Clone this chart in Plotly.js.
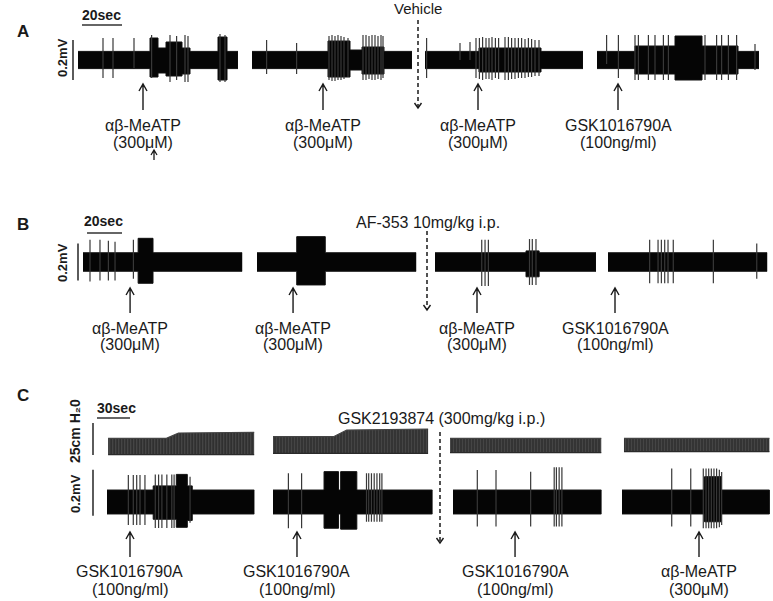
<!DOCTYPE html>
<html><head><meta charset="utf-8">
<script src="https://cdn.plot.ly/plotly-3.0.1.min.js"></script>
<style>html,body{margin:0;padding:0;background:#fff}</style>
</head><body><div id="chart" style="width:773px;height:601px"></div>
<script>
// ================= DATA =================
// Electrical traces: envelope of baseline activity (time s, +mV, -mV) and spikes (time s, up mV, down mV)
// ---- Panel A ----
const a1T  = [0, 36, 36, 40, 40, 44, 44, 52, 52, 56, 56, 70, 70, 74.5, 74.5, 80];
const a1Up = [.043,.043,.11,.11,.06,.06,.09,.09,.06,.06,.043,.043,.115,.115,.043,.043];
const a1Dn = [.043,.043,.085,.085,.065,.065,.08,.08,.07,.07,.043,.043,.10,.10,.043,.043];
const a1SpT  = [12.5, 17.5, 28, 36.8, 46, 49.3, 53.5, 55, 71, 73.5];
const a1SpUp = [.11,.11,.11,.125,.125,.12,.125,.12,.13,.125];
const a1SpDn = [.09,.09,.04,.09,.11,.10,.11,.11,.11,.11];

const a2T  = [0, 38, 38, 49, 49, 55, 55, 66, 66, 80];
const a2Up = [.043,.043,.095,.095,.05,.05,.065,.065,.043,.043];
const a2Dn = [.043,.043,.085,.085,.05,.05,.07,.07,.043,.043];
const a2SpT  = [7.3, 22.3, 38.5, 40, 41.5, 43, 44.5, 46, 48, 55.5, 57, 58.5, 60, 61.5, 63, 64.5, 65.5];
const a2SpUp = [.10,.085,.12,.125,.12,.125,.12,.115,.11,.125,.125,.12,.125,.125,.12,.125,.12];
const a2SpDn = [.07,.07,.10,.105,.105,.10,.10,.095,.085,.10,.10,.095,.10,.10,.095,.10,.09];

const a3T  = [0, 27, 27, 58, 58, 79];
const a3Up = [.043,.043,.06,.06,.043,.043];
const a3Dn = [.043,.043,.06,.06,.043,.043];
const a3SpT  = [0.8, 17.5, 22.5, 25.5, 27.2, 28.8, 30.5, 32, 33.5, 35.2, 36.8, 40, 41.7, 43.3, 45, 46.7, 48.3, 50, 51.7, 53.3, 55, 57];
const a3SpUp = [.11,.085,.09,.11,.11,.115,.11,.11,.115,.11,.11,.115,.115,.11,.11,.11,.11,.105,.11,.105,.10,.10];
const a3SpDn = [.09,0,0,.09,.095,.10,.095,.095,.10,.09,.095,.10,.10,.095,.095,.09,.09,.09,.085,.085,.08,.08];

const a4T  = [0, 19, 19, 39, 39, 52.5, 52.5, 70.5, 70.5, 81];
const a4Up = [.043,.043,.07,.07,.12,.12,.07,.07,.043,.043];
const a4Dn = [.043,.043,.07,.07,.10,.10,.07,.07,.043,.043];
const a4SpT  = [4.8, 10.7, 19, 20.7, 25.7, 29, 33.2, 35.7, 54, 59.8, 62.3, 65.7, 69.8, 79];
const a4SpUp = [.125,.125,.125,.125,.125,.125,.125,.125,.125,.125,.125,.125,.125,.08];
const a4SpDn = [.02,.09,.10,.10,.10,.10,.10,.10,.10,.10,.10,.10,.10,.05];

// ---- Panel B ----
const b1T  = [0, 31.5, 31.5, 40, 40, 91];
const b1Up = [.05,.05,.128,.128,.05,.05];
const b1Dn = [.05,.05,.115,.115,.05,.05];
const b1SpT  = [4, 9.7, 14.5, 18.3, 28.8];
const b1SpUp = [.12,.12,.115,.11,.12];
const b1SpDn = [.105,.10,.10,.10,.09];

const b2T  = [0, 22.7, 22.7, 39, 39, 91];
const b2Up = [.05,.05,.137,.137,.05,.05];
const b2Dn = [.05,.05,.124,.124,.05,.05];
const b2SpT  = [];
const b2SpUp = [];
const b2SpDn = [];

const b3T  = [0, 52, 52, 59.5, 59.5, 92];
const b3Up = [.05,.05,.06,.06,.05,.05];
const b3Dn = [.05,.05,.08,.08,.05,.05];
const b3SpT  = [26.7, 28.6, 30.5, 54, 55.6, 57.7];
const b3SpUp = [.12,.12,.12,.124,.124,.124];
const b3SpDn = [.13,.13,.13,.124,.124,.124];

const b4T  = [0, 91];
const b4Up = [.05,.05];
const b4Dn = [.05,.05];
const b4SpT  = [23.8, 28.6, 30.5, 32.4, 34.3, 37.3, 60.2, 85];
const b4SpUp = [.12,.12,.12,.12,.12,.12,.12,.10];
const b4SpDn = [.115,.115,.115,.115,.115,.115,.115,.09];

// ---- Panel C (electrical) ----
const c1T  = [0, 42, 42, 63, 63, 73, 73, 77.5, 77.5, 134];
const c1Up = [.052,.052,.07,.07,.12,.12,.07,.07,.052,.052];
const c1Dn = [.052,.052,.075,.075,.11,.11,.08,.08,.052,.052];
const c1SpT  = [19.4, 23.9, 27, 30, 34.5, 43.9, 46.9, 49.9, 54.4, 58.9, 61, 75.5];
const c1SpUp = [.117,.117,.117,.117,.117,.12,.12,.12,.12,.12,.12,.11];
const c1SpDn = [.10,.10,.10,.10,.10,.113,.113,.113,.113,.113,.113,.09];

const c2T  = [0, 46.4, 46.4, 59.6, 59.6, 61.5, 61.5, 76.2, 76.2, 145];
const c2Up = [.052,.052,.132,.132,.052,.052,.132,.132,.052,.052];
const c2Dn = [.052,.052,.114,.114,.052,.052,.118,.118,.052,.052];
const c2SpT  = [14, 26, 85, 87, 89.5, 92, 94.5, 97, 99];
const c2SpUp = [.125,.125,.125,.125,.125,.125,.125,.125,.125];
const c2SpDn = [.114,.114,.086,.086,.086,.086,.086,.086,.086];

const c3T  = [0, 135];
const c3Up = [.052,.052];
const c3Dn = [.052,.052];
const c3SpT  = [22.1, 39.1, 70.6, 92, 94, 96.5, 99];
const c3SpUp = [.139,.139,.132,.151,.151,.151,.151];
const c3SpDn = [.107,.107,.107,.107,.107,.107,.107];

const c4T  = [0, 75, 75, 90, 90, 134];
const c4Up = [.052,.052,.11,.11,.052,.052];
const c4Dn = [.052,.052,.086,.086,.052,.052];
const c4SpT  = [45.2, 62.5, 73.9, 76.4, 78.8, 81.2, 83.6, 86, 88.5, 90.6];
const c4SpUp = [.146,.146,.146,.146,.146,.146,.146,.146,.14,.13];
const c4SpDn = [.107,.107,.114,.114,.114,.114,.114,.114,.11,.10];

// ---- Panel C (bladder pressure, cm H2O) ----
const p1T = [1, 54, 65, 134];   const p1Peak = [13.0, 13.0, 17.2, 17.7]; const p1Trough = [0.3, 0.3, 0.3, 0.3];
const p2T = [0, 55, 67, 141];   const p2Peak = [14.3, 14.3, 19.5, 20.3]; const p2Trough = [1.3, 1.3, 1.3, 1.3];
const p3T = [-2.7, 135];        const p3Peak = [13.0, 13.0];             const p3Trough = [1.8, 1.8];
const p4T = [1.8, 134];         const p4Peak = [13.0, 13.0];             const p4Trough = [2.6, 2.6];

// ---- Events (drug application times within each trace, s) ----
const aEvT = [32.5, 35.5, 26.5, 10.5];
const aEvName = ['αβ-MeATP', 'αβ-MeATP', 'αβ-MeATP', 'GSK1016790A'];
const aEvDose = ['(300μM)', '(300μM)', '(300μM)', '(100ng/ml)'];
const bEvT = [26.9, 20.6, 24, 4];
const bEvName = ['αβ-MeATP', 'αβ-MeATP', 'αβ-MeATP', 'GSK1016790A'];
const bEvDose = ['(300μM)', '(300μM)', '(300μM)', '(100ng/ml)'];
const cEvT = [20.9, 21.8, 56.4, 70];
const cEvName = ['GSK1016790A', 'GSK1016790A', 'GSK1016790A', 'αβ-MeATP'];
const cEvDose = ['(100ng/ml)', '(100ng/ml)', '(100ng/ml)', '(300μM)'];
const treatments = ['Vehicle', 'AF-353 10mg/kg i.p.', 'GSK2193874 (300mg/kg i.p.)'];

// ================= LAYOUT CONFIG =================
const W = 773, H = 601;
const FONT = '"Liberation Sans", Arial, Helvetica, sans-serif';
const INK = '#1a1a1a';
const py = p => 1 - p / H;
const pxf = p => p / W;

const rows = {
  A:  {yId: 'y',  zeroPx: 60,  k: 200,  range: [-0.2, 0.2], pps: 2},
  B:  {yId: 'y2', zeroPx: 262, k: 185,  range: [-0.2, 0.2], pps: 1.75},
  CP: {yId: 'y3', zeroPx: 455, k: 1.28, range: [-1, 30]},
  CE: {yId: 'y4', zeroPx: 502, k: 230,  range: [-0.2, 0.2], pps: 1.1}
};
const segs = [
  {xId:'x',   row:'A', start:78,  range:[0,80],   t:a1T, up:a1Up, dn:a1Dn, st:a1SpT, su:a1SpUp, sd:a1SpDn},
  {xId:'x2',  row:'A', start:252, range:[0,80],   t:a2T, up:a2Up, dn:a2Dn, st:a2SpT, su:a2SpUp, sd:a2SpDn},
  {xId:'x3',  row:'A', start:425, range:[0,79],   t:a3T, up:a3Up, dn:a3Dn, st:a3SpT, su:a3SpUp, sd:a3SpDn},
  {xId:'x4',  row:'A', start:597, range:[0,81],   t:a4T, up:a4Up, dn:a4Dn, st:a4SpT, su:a4SpUp, sd:a4SpDn},
  {xId:'x5',  row:'B', start:83,  range:[0,91],   t:b1T, up:b1Up, dn:b1Dn, st:b1SpT, su:b1SpUp, sd:b1SpDn},
  {xId:'x6',  row:'B', start:257, range:[0,91],   t:b2T, up:b2Up, dn:b2Dn, st:b2SpT, su:b2SpUp, sd:b2SpDn},
  {xId:'x7',  row:'B', start:435, range:[0,92],   t:b3T, up:b3Up, dn:b3Dn, st:b3SpT, su:b3SpUp, sd:b3SpDn},
  {xId:'x8',  row:'B', start:608, range:[0,91],   t:b4T, up:b4Up, dn:b4Dn, st:b4SpT, su:b4SpUp, sd:b4SpDn},
  {xId:'x9',  row:'CE', start:107, range:[-14,134], t:c1T, up:c1Up, dn:c1Dn, st:c1SpT, su:c1SpUp, sd:c1SpDn, pt:p1T, pp:p1Peak, pq:p1Trough},
  {xId:'x10', row:'CE', start:273, range:[-5,145],  t:c2T, up:c2Up, dn:c2Dn, st:c2SpT, su:c2SpUp, sd:c2SpDn, pt:p2T, pp:p2Peak, pq:p2Trough},
  {xId:'x11', row:'CE', start:453, range:[-5,135],  t:c3T, up:c3Up, dn:c3Dn, st:c3SpT, su:c3SpUp, sd:c3SpDn, pt:p3T, pp:p3Peak, pq:p3Trough},
  {xId:'x12', row:'CE', start:622, range:[-5,135],  t:c4T, up:c4Up, dn:c4Dn, st:c4SpT, su:c4SpUp, sd:c4SpDn, pt:p4T, pp:p4Peak, pq:p4Trough}
];

const layout = {
  width: W, height: H, margin: {l:0, r:0, t:0, b:0},
  paper_bgcolor: '#fff', plot_bgcolor: 'rgba(0,0,0,0)',
  showlegend: false, hovermode: false,
  annotations: [], shapes: []
};
const hidden = {visible:false, showgrid:false, zeroline:false, showticklabels:false, fixedrange:true};
const axKey = id => id.replace(/^x/, 'xaxis').replace(/^y/, 'yaxis');

Object.values(rows).forEach(r => {
  const pLo = r.zeroPx - r.range[0] * r.k, pHi = r.zeroPx - r.range[1] * r.k;
  layout[axKey(r.yId)] = Object.assign({}, hidden, {range: r.range, domain: [py(pLo), py(pHi)]});
});
segs.forEach(s => {
  const pps = rows[s.row].pps;
  layout[axKey(s.xId)] = Object.assign({}, hidden, {
    range: s.range, anchor: rows[s.row].yId,
    domain: [pxf(s.start + s.range[0] * pps), pxf(s.start + s.range[1] * pps)]
  });
});

// ================= TRACES =================
const traces = [];
segs.forEach(s => {
  const yId = rows[s.row].yId;
  if (s.pt) {
    traces.push({type:'scatter', mode:'lines', xaxis:s.xId, yaxis:'y3', x:s.pt, y:s.pq,
      line:{color:'#2a2a2a', width:1.3}, hoverinfo:'skip'});
    traces.push({type:'scatter', mode:'lines', xaxis:s.xId, yaxis:'y3', x:s.pt, y:s.pp,
      fill:'tonexty', fillcolor:'#5a5a5a',
      fillpattern:{shape:'|', size:3, solidity:0.7, fgcolor:'#222', bgcolor:'#6e6e6e'},
      line:{color:'#444', width:1.2}, hoverinfo:'skip'});
  }
  const bx = s.t.concat(s.t.slice().reverse());
  const by = s.up.concat(s.dn.map(v => -v).reverse());
  traces.push({type:'scatter', mode:'lines', xaxis:s.xId, yaxis:yId, x:bx, y:by,
    fill:'toself', fillcolor:'#050505', line:{color:'#111', width:1, simplify:false}, hoverinfo:'skip'});
  const sx = [], sy = [];
  s.st.forEach((t, i) => { sx.push(t, t, null); sy.push(-s.sd[i], s.su[i], null); });
  if (sx.length) traces.push({type:'scatter', mode:'lines', xaxis:s.xId, yaxis:yId, x:sx, y:sy,
    line:{color:'#383838', width:1.2, simplify:false}, hoverinfo:'skip'});
});

// ================= ANNOTATIONS / SHAPES =================
function txt(text, px, pyv, size, extra) {
  layout.annotations.push(Object.assign({text, xref:'paper', yref:'paper', x:pxf(px), y:py(pyv),
    showarrow:false, xanchor:'center', yanchor:'middle',
    font:{family:FONT, size, color:INK}}, extra || {}));
}
function evLabel(xId, t, text, pyv) {
  layout.annotations.push({text, xref:xId, yref:'paper', x:t, y:py(pyv), showarrow:false,
    xanchor:'center', yanchor:'middle', font:{family:FONT, size:16, color:INK}});
}
function upArrow(xref, xval, tip, tail, hw, hh, w) {
  layout.shapes.push({type:'path', xref, yref:'paper', xsizemode:'pixel', ysizemode:'pixel',
    xanchor:xval, yanchor:py(tip),
    path:`M0,0L0,${-(tail - tip)}M${-hw},${-hh}L0,0L${hw},${-hh}`,
    line:{color:INK, width:w || 1.4}});
}
function dashArrow(px, top, bottom) {
  layout.shapes.push({type:'line', xref:'paper', yref:'paper', x0:pxf(px), x1:pxf(px), y0:py(top), y1:py(bottom-1),
    line:{color:INK, width:1.5, dash:'4px,3px'}});
  layout.shapes.push({type:'path', xref:'paper', yref:'paper', xsizemode:'pixel', ysizemode:'pixel',
    xanchor:pxf(px), yanchor:py(bottom), path:'M-3.5,5L0,0L3.5,5', line:{color:INK, width:1.4}});
}
function hBar(xId, t0, t1, pyv) {
  layout.shapes.push({type:'line', xref:xId, yref:'paper', x0:t0, x1:t1, y0:py(pyv), y1:py(pyv),
    line:{color:'#333', width:1.6}});
}
function vBar(px, yId, v0, v1) {
  layout.shapes.push({type:'line', xref:'paper', yref:yId, x0:pxf(px), x1:pxf(px), y0:v0, y1:v1,
    line:{color:'#333', width:1.6}});
}

// Panel letters
txt('<b>A</b>', 23, 32, 17);
txt('<b>B</b>', 23, 224, 17);
txt('<b>C</b>', 23, 395, 17);

// Scale bars
txt('<b>20sec</b>', 101, 15, 14);  hBar('x', 2, 22, 25);
txt('<b>0.2mV</b>', 62, 58, 13, {textangle:-90}); vBar(73, 'y', -0.1, 0.1);
txt('<b>20sec</b>', 104, 221, 14); hBar('x5', 2.3, 22.3, 233);
txt('<b>0.2mV</b>', 62, 263, 13, {textangle:-90}); vBar(78, 'y2', -0.1, 0.1);
txt('<b>30sec</b>', 117, 408, 14); hBar('x9', -9.1, 20.9, 418);
txt('<b>25cm H₂0</b>', 75, 431, 14, {textangle:-90}); vBar(93, 'y3', 0, 25);
txt('<b>0.2mV</b>', 75, 494, 13, {textangle:-90}); vBar(93, 'y4', -0.06, 0.14);

// Treatments with dashed arrows
txt(treatments[0], 418, 9, 15);  dashArrow(418, 20, 108);
txt(treatments[1], 428, 222, 16); dashArrow(427, 231, 310);
txt(treatments[2], 441, 418, 16); dashArrow(440, 432, 543);

// Event arrows + labels
const aSeg = segs.slice(0,4), bSeg = segs.slice(4,8), cSeg = segs.slice(8,12);
aSeg.forEach((s,i) => { upArrow(s.xId, aEvT[i], 84, 110, 4, 7); evLabel(s.xId, aEvT[i], aEvName[i], 125); evLabel(s.xId, aEvT[i], aEvDose[i], 142); });
bSeg.forEach((s,i) => { upArrow(s.xId, bEvT[i], 288, 313, 4, 7); evLabel(s.xId, bEvT[i], bEvName[i], 328); evLabel(s.xId, bEvT[i], bEvDose[i], 344); });
cSeg.forEach((s,i) => { upArrow(s.xId, cEvT[i], 532, 557, 4, 7); evLabel(s.xId, cEvT[i], cEvName[i], 571); evLabel(s.xId, cEvT[i], cEvDose[i], 589); });
// small extra arrow under first A label
upArrow('x', 38, 150, 160, 3, 5, 1.3);

Plotly.newPlot('chart', traces, layout, {staticPlot:true, displayModeBar:false});
</script>
</body></html>
